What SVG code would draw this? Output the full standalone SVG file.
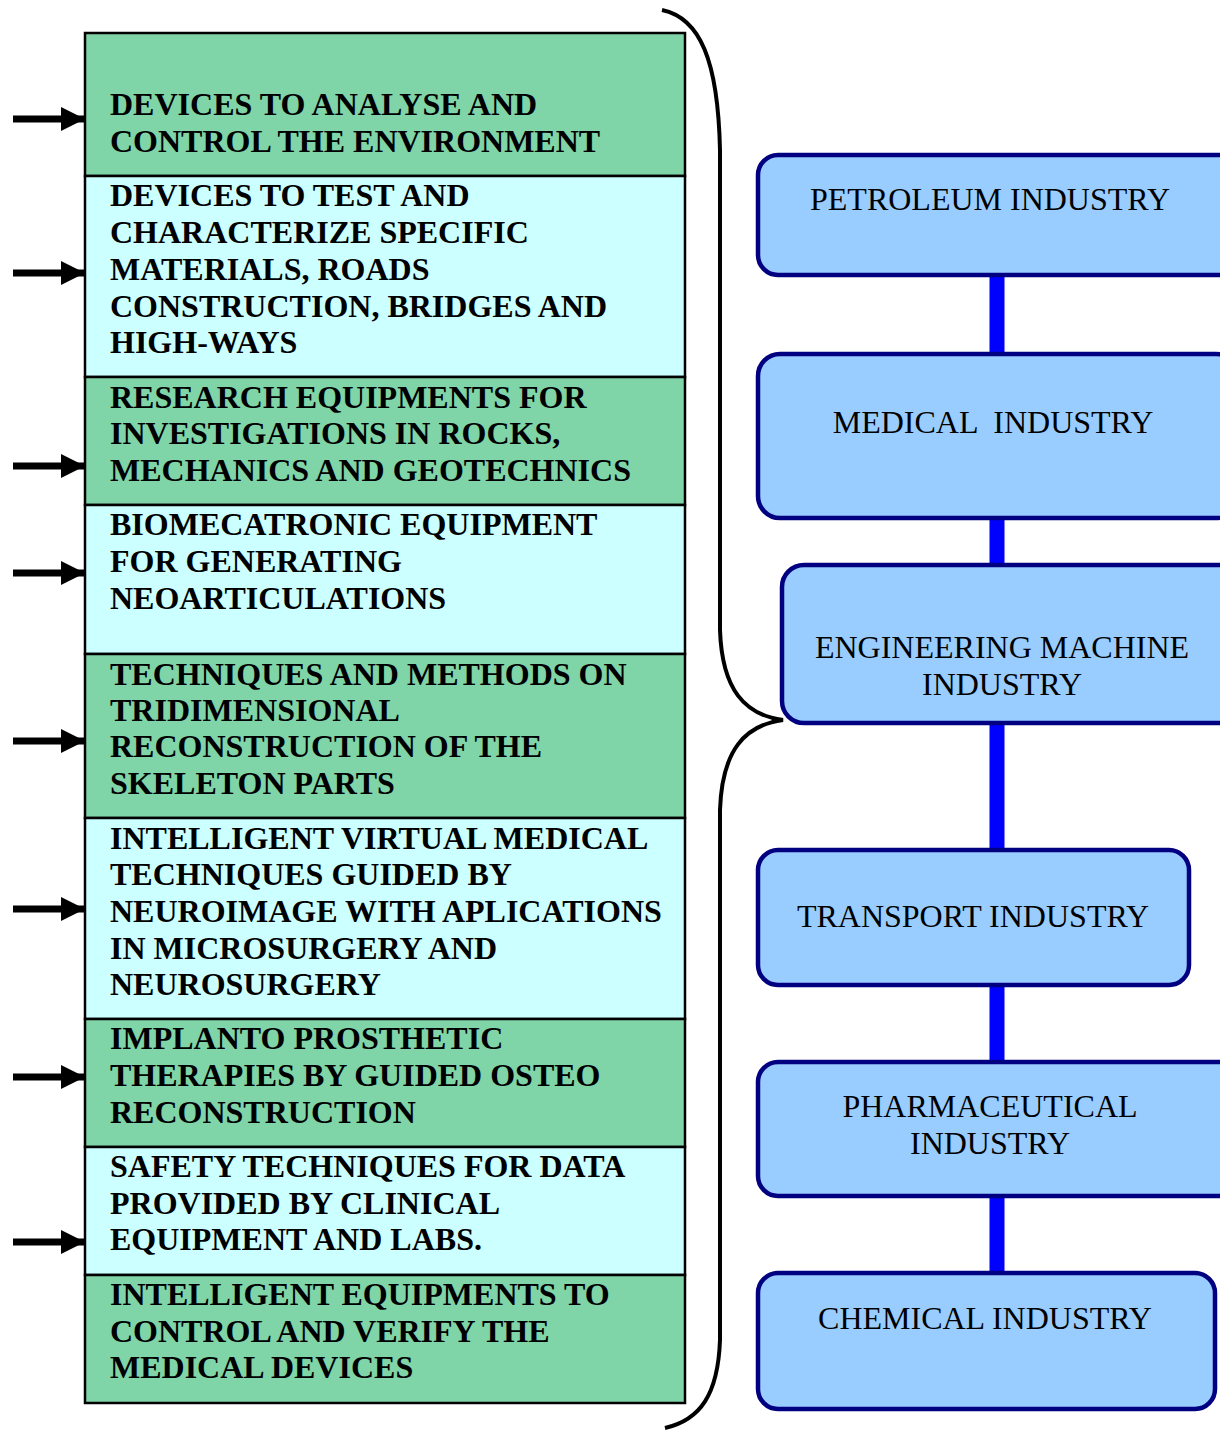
<svg xmlns="http://www.w3.org/2000/svg" width="1220" height="1430" viewBox="0 0 1220 1430">
<style>
.dk{fill:#7FD4A8;stroke:#000;stroke-width:2.5}
.lt{fill:#CCFFFF;stroke:#000;stroke-width:2.5}
.lb{font-family:"Liberation Serif","Times New Roman",serif;font-weight:bold;font-size:32px;fill:#000}
.ind{fill:#99CCFF;stroke:#000080;stroke-width:4.5}
.it{font-family:"Liberation Serif","Times New Roman",serif;font-size:32px;fill:#000;text-anchor:middle;white-space:pre}
.con{stroke:#0000FF;stroke-width:15;fill:none}
.arr{stroke:#000;stroke-width:7;fill:none}
</style>
<defs>
<marker id="ah" markerWidth="24" markerHeight="24" refX="24" refY="12" orient="auto" markerUnits="userSpaceOnUse">
<path d="M0,0 L24,12 L0,24 Z" fill="#000"/>
</marker>
</defs>
<g id="connectors">
<line class="con" x1="997" y1="275" x2="997" y2="353"/>
<line class="con" x1="997" y1="518" x2="997" y2="565"/>
<line class="con" x1="997" y1="723" x2="997" y2="850"/>
<line class="con" x1="997" y1="985" x2="997" y2="1062"/>
<line class="con" x1="997" y1="1196" x2="997" y2="1273"/>
<g id="arrows">
<line class="arr" x1="13" y1="119" x2="85" y2="119" marker-end="url(#ah)"/>
<line class="arr" x1="13" y1="273" x2="85" y2="273" marker-end="url(#ah)"/>
<line class="arr" x1="13" y1="466" x2="85" y2="466" marker-end="url(#ah)"/>
<line class="arr" x1="13" y1="573" x2="85" y2="573" marker-end="url(#ah)"/>
<line class="arr" x1="13" y1="741" x2="85" y2="741" marker-end="url(#ah)"/>
<line class="arr" x1="13" y1="909" x2="85" y2="909" marker-end="url(#ah)"/>
<line class="arr" x1="13" y1="1077" x2="85" y2="1077" marker-end="url(#ah)"/>
<line class="arr" x1="13" y1="1242" x2="85" y2="1242" marker-end="url(#ah)"/>
</g>
<path id="brace" d="M662,10 C700,18 718,60 720,150 L720,630 C722,690 745,715 783,720 C745,725 722,750 720,810 L720,1340 C718,1395 700,1420 665,1428" fill="none" stroke="#000" stroke-width="4"/>
</g>
<g id="left-1"><rect class="dk" x="85" y="33" width="600" height="143"/>
<text class="lb" x="110" y="115">DEVICES TO ANALYSE AND</text>
<text class="lb" x="110" y="152">CONTROL THE ENVIRONMENT</text></g>
<g id="left-2"><rect class="lt" x="85" y="176" width="600" height="201"/>
<text class="lb" x="110" y="206">DEVICES TO TEST AND</text>
<text class="lb" x="110" y="243">CHARACTERIZE SPECIFIC</text>
<text class="lb" x="110" y="280">MATERIALS, ROADS</text>
<text class="lb" x="110" y="317">CONSTRUCTION, BRIDGES AND</text>
<text class="lb" x="110" y="353">HIGH-WAYS</text></g>
<g id="left-3"><rect class="dk" x="85" y="377" width="600" height="128"/>
<text class="lb" x="110" y="408">RESEARCH EQUIPMENTS FOR</text>
<text class="lb" x="110" y="444">INVESTIGATIONS IN ROCKS,</text>
<text class="lb" x="110" y="481">MECHANICS AND GEOTECHNICS</text></g>
<g id="left-4"><rect class="lt" x="85" y="505" width="600" height="149"/>
<text class="lb" x="110" y="535">BIOMECATRONIC EQUIPMENT</text>
<text class="lb" x="110" y="572">FOR GENERATING</text>
<text class="lb" x="110" y="609">NEOARTICULATIONS</text></g>
<g id="left-5"><rect class="dk" x="85" y="654" width="600" height="164"/>
<text class="lb" x="110" y="685">TECHNIQUES AND METHODS ON</text>
<text class="lb" x="110" y="721">TRIDIMENSIONAL</text>
<text class="lb" x="110" y="757">RECONSTRUCTION OF THE</text>
<text class="lb" x="110" y="794">SKELETON PARTS</text></g>
<g id="left-6"><rect class="lt" x="85" y="818" width="600" height="201"/>
<text class="lb" x="110" y="849">INTELLIGENT VIRTUAL MEDICAL</text>
<text class="lb" x="110" y="885">TECHNIQUES GUIDED BY</text>
<text class="lb" x="110" y="922">NEUROIMAGE WITH APLICATIONS</text>
<text class="lb" x="110" y="959">IN MICROSURGERY AND</text>
<text class="lb" x="110" y="995">NEUROSURGERY</text></g>
<g id="left-7"><rect class="dk" x="85" y="1019" width="600" height="128"/>
<text class="lb" x="110" y="1049">IMPLANTO PROSTHETIC</text>
<text class="lb" x="110" y="1086">THERAPIES BY GUIDED OSTEO</text>
<text class="lb" x="110" y="1123">RECONSTRUCTION</text></g>
<g id="left-8"><rect class="lt" x="85" y="1147" width="600" height="128"/>
<text class="lb" x="110" y="1177">SAFETY TECHNIQUES FOR DATA</text>
<text class="lb" x="110" y="1214">PROVIDED BY CLINICAL</text>
<text class="lb" x="110" y="1250">EQUIPMENT AND LABS.</text></g>
<g id="left-9"><rect class="dk" x="85" y="1275" width="600" height="128"/>
<text class="lb" x="110" y="1305">INTELLIGENT EQUIPMENTS TO</text>
<text class="lb" x="110" y="1342">CONTROL AND VERIFY THE</text>
<text class="lb" x="110" y="1378">MEDICAL DEVICES</text></g>
<g id="petroleum"><rect class="ind" x="758" y="155" width="480" height="120" rx="20"/>
<text class="it" x="990" y="210">PETROLEUM INDUSTRY</text></g>
<g id="medical"><rect class="ind" x="758" y="354" width="480" height="164" rx="22"/>
<text class="it" x="993" y="433">MEDICAL  INDUSTRY</text></g>
<g id="engineering"><rect class="ind" x="782" y="565" width="460" height="158" rx="22"/>
<text class="it" x="1002" y="658">ENGINEERING MACHINE</text>
<text class="it" x="1002" y="695">INDUSTRY</text></g>
<g id="transport"><rect class="ind" x="758" y="850" width="431" height="135" rx="20"/>
<text class="it" x="973" y="927">TRANSPORT INDUSTRY</text></g>
<g id="pharmaceutical"><rect class="ind" x="758" y="1062" width="480" height="134" rx="20"/>
<text class="it" x="990" y="1117">PHARMACEUTICAL</text>
<text class="it" x="990" y="1154">INDUSTRY</text></g>
<g id="chemical"><rect class="ind" x="758" y="1273" width="457" height="136" rx="20"/>
<text class="it" x="985" y="1329">CHEMICAL INDUSTRY</text></g>
</svg>
